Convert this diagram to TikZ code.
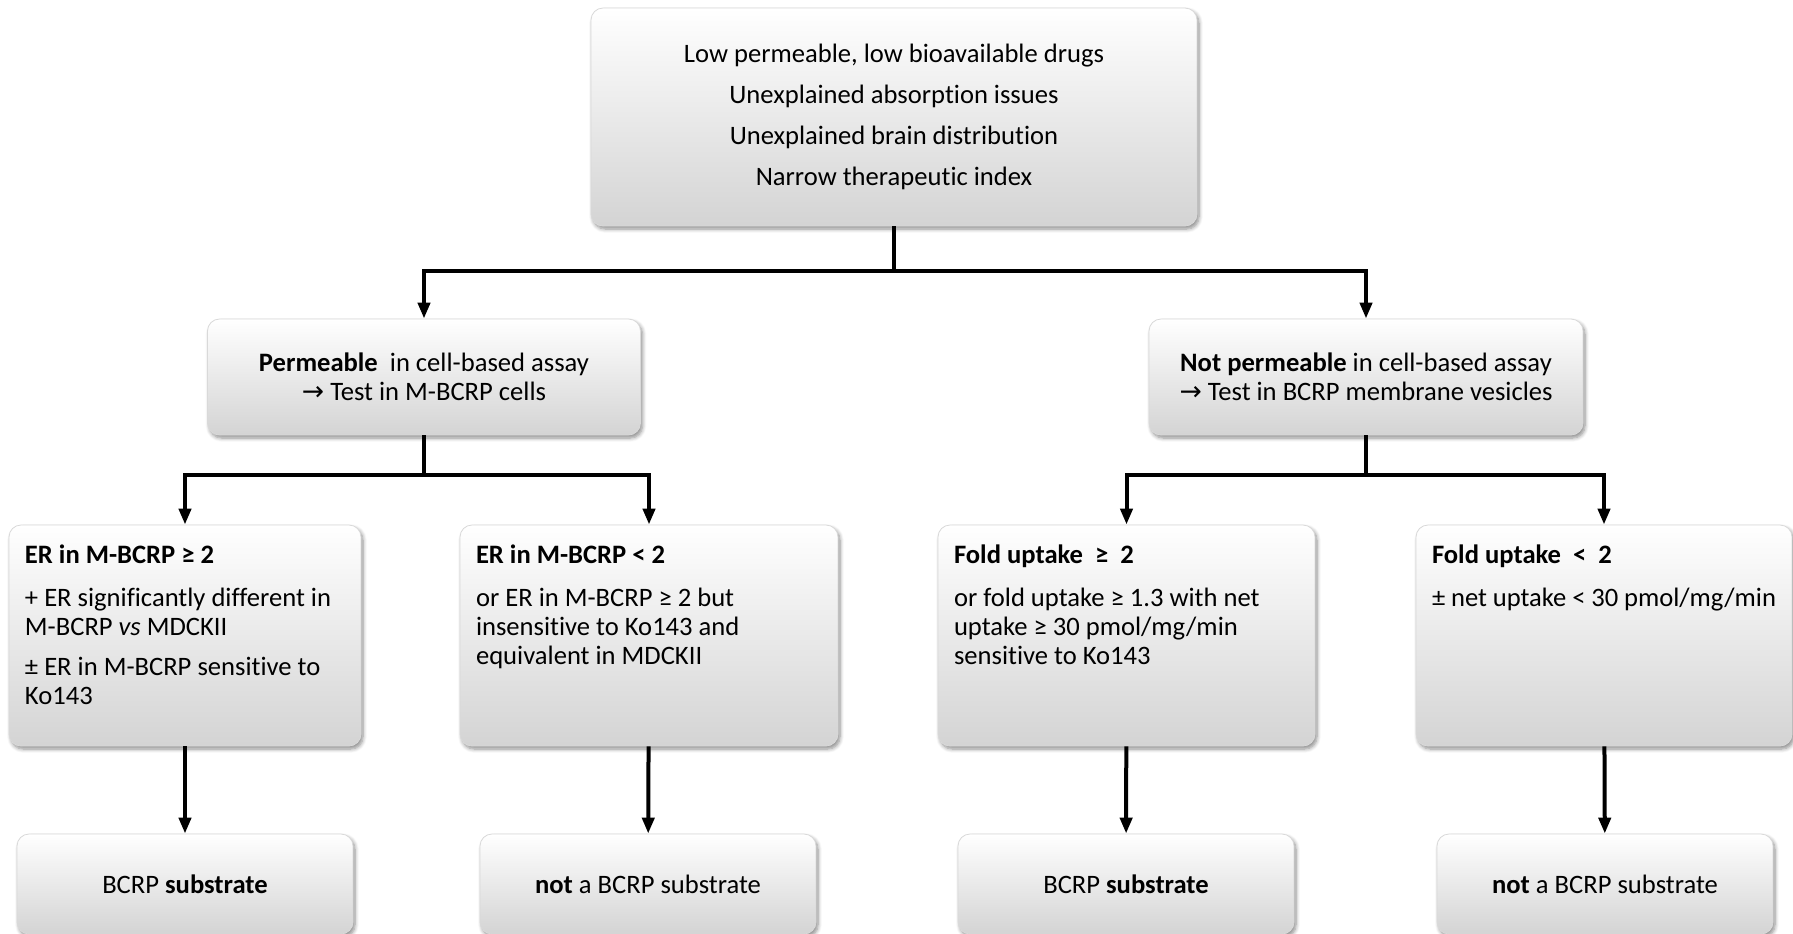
\documentclass[tikz,border=0pt]{standalone}
\usepackage{fontspec}
\setmainfont{Carlito}[Ligatures=NoCommon]
\newfontfamily\symfont{DejaVu Sans}
\usetikzlibrary{arrows.meta, positioning, shadows.blur}

\begin{document}
\begin{tikzpicture}[
    x=0.5pt, y=-0.5pt,
    every node/.style={font=\fontsize{13.3}{14.5}\selectfont},
    flowbox/.style={rectangle, draw=black!15, line width=0.4pt, rounded corners=6pt, top color=white, bottom color=black!17, blur shadow={shadow xshift=1pt, shadow yshift=-1.5pt, shadow blur steps=6, shadow opacity=45}},
    condbox/.style={flowbox, inner xsep=8pt, inner ysep=0pt},
    endbox/.style={flowbox, align=center, minimum width=168pt, minimum height=50pt},
    link/.style={line width=2pt},
    >={Triangle[width=6pt,length=8pt]}
]
\useasboundingbox (0,0) rectangle (1793,933);

% Nodes
\node[flowbox, align=center, minimum width=303pt, minimum height=109pt] (drugs) at (894,117)
    {Low permeable, low bioavailable drugs\\[6pt]Unexplained absorption issues\\[6pt]Unexplained brain distribution\\[6pt]Narrow therapeutic index};
\node[flowbox, align=center, minimum width=216.5pt, minimum height=58pt] (perm) at (424,377)
    {\textbf{Permeable}\ \ in cell-based assay\\{\symfont →} Test in M-BCRP cells};
\node[flowbox, align=center, minimum width=217pt, minimum height=58pt] (notperm) at (1366,377)
    {\textbf{Not permeable} in cell-based assay\\{\symfont →} Test in BCRP membrane vesicles};

\node[condbox] (erhigh) at (185,635.5) {\parbox[c][110.5pt][t]{160pt}{\raggedright\vspace*{10pt}%
    \textbf{ER in M-BCRP ≥ 2}\par\vspace{7pt}
    + ER significantly different in\\M-BCRP \textit{vs} MDCKII\par\vspace{5.5pt}
    ± ER in M-BCRP sensitive to\\Ko143}};
\node[condbox] (erlow) at (649,635.5) {\parbox[c][110.5pt][t]{173pt}{\raggedright\vspace*{10pt}%
    \textbf{ER in M-BCRP < 2}\par\vspace{7pt}
    or ER in M-BCRP ≥ 2 but\\insensitive to Ko143 and\\equivalent in MDCKII}};
\node[condbox] (foldhigh) at (1126.5,635.5) {\parbox[c][110.5pt][t]{172.5pt}{\raggedright\vspace*{10pt}%
    \textbf{Fold uptake\ \ ≥\ \ 2}\par\vspace{7pt}
    or fold uptake ≥ 1.3 with net\\uptake ≥ 30 pmol/mg/min\\sensitive to Ko143}};
\node[condbox] (foldlow) at (1604,635.5) {\parbox[c][110.5pt][t]{172pt}{\raggedright\vspace*{10pt}%
    \textbf{Fold uptake\ \ <\ \ 2}\par\vspace{7pt}
    ± net uptake < 30 pmol/mg/min}};

\node[endbox] (subA) at (185,884) {BCRP \textbf{substrate}};
\node[endbox] (nosubA) at (648,884) {\textbf{not} a BCRP substrate};
\node[endbox] (subB) at (1126,884) {BCRP \textbf{substrate}};
\node[endbox] (nosubB) at (1605,884) {\textbf{not} a BCRP substrate};

% Arrows
\draw[link] (drugs.south) -- ++(0,45) coordinate (split);
\draw[link, ->] (split) -| (perm.north);
\draw[link, ->] (split) -| (notperm.north);

\draw[link] (perm.south) -- ++(0,40) coordinate (splitperm);
\draw[link, ->] (splitperm) -| (erhigh.north);
\draw[link, ->] (splitperm) -| (erlow.north);

\draw[link] (notperm.south) -- ++(0,40) coordinate (splitvesic);
\draw[link, ->] (splitvesic) -| (foldhigh.north);
\draw[link, ->] (splitvesic) -| (foldlow.north);

\draw[link, ->] (erhigh) -- (subA);
\draw[link, ->] (erlow) -- (nosubA);
\draw[link, ->] (foldhigh) -- (subB);
\draw[link, ->] (foldlow) -- (nosubB);

\end{tikzpicture}
\end{document}
